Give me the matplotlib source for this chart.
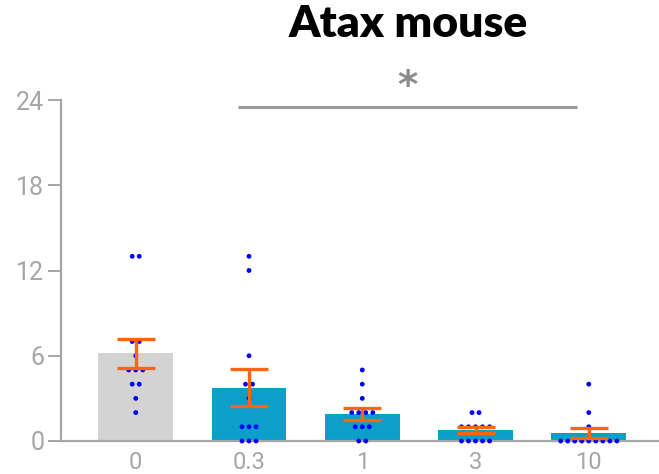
import numpy as np
import matplotlib
matplotlib.use("Agg")
import matplotlib.pyplot as plt

# doses and individual animal values
doses = ["0", "0.3", "1", "3", "10"]
vals_0 = [13, 13, 7, 7, 6, 5, 5, 5, 4, 4, 3, 2]
vals_03 = [13, 12, 6, 4, 4, 3, 1, 1, 1, 0, 0, 0]
vals_1 = [5, 4, 3, 2, 2, 2, 2, 1, 1, 1, 0, 0]
vals_3 = [2, 2, 1, 1, 1, 1, 1, 0, 0, 0, 0, 0]
vals_10 = [4, 2, 1, 0, 0, 0, 0, 0, 0, 0, 0, 0]
groups = [vals_0, vals_03, vals_1, vals_3, vals_10]
bar_colors = ["#d3d3d3", "#0b9fca", "#0b9fca", "#0b9fca", "#0b9fca"]

means = [np.mean(g) for g in groups]
sems = [np.std(g, ddof=1) / np.sqrt(len(g)) for g in groups]

fig = plt.figure(figsize=(6.59, 4.74), dpi=100)
ax = fig.add_axes([61 / 659, 1 - 441 / 474, 1 - 61 / 659, 341 / 474])

xpos = np.arange(len(doses))
ax.bar(xpos, means, width=0.66, color=bar_colors, zorder=1)

# dots, duplicates spread sideways like a swarm
step = 0.062
for i, g in enumerate(groups):
    g = np.array(g)
    for v in np.unique(g):
        n = np.sum(g == v)
        offs = (np.arange(n) - (n - 1) / 2) * step
        ax.scatter(xpos[i] + offs, [v] * n, s=12, color="#0000ff",
                   edgecolors="none", zorder=3, clip_on=False)

ax.errorbar(xpos, means, yerr=sems, fmt="none", ecolor="#ff6410",
            elinewidth=2.4, capsize=14, capthick=2.4, zorder=4)

# significance bar
ax.plot([0.9, 3.9], [23.5, 23.5], color="#999999", lw=2.2,
        clip_on=False, solid_capstyle="butt")
ax.text(2.4, 23.6, "*", ha="center", va="bottom", fontsize=28,
        color="#8c8c8c", fontweight="bold", clip_on=False)

ax.set_xlim(-0.66, 4.62)
ax.set_ylim(0, 24)
ax.set_yticks([0, 6, 12, 18, 24])
ax.set_xticks(xpos)
ax.set_xticklabels(doses)

for s in ["top", "right"]:
    ax.spines[s].set_visible(False)
for s in ["left", "bottom"]:
    ax.spines[s].set_color("#a6a6a6")
    ax.spines[s].set_linewidth(1.6)
ax.spines["bottom"].set_zorder(2)

ax.tick_params(axis="y", length=9.5, width=1.4, color="#a6a6a6",
               labelcolor="#a6a6a6", labelsize=18, pad=2.5)
ax.tick_params(axis="x", length=0, labelcolor="#a6a6a6", labelsize=17, pad=7)
for lab in ax.get_xticklabels() + ax.get_yticklabels():
    lab.set_family("Roboto")

fig.text(408 / 659, 1 - 24 / 474, "Atax mouse", ha="center", va="center",
         fontsize=32, fontweight="heavy", family="Lato")

fig.savefig("out.png", dpi=100)
